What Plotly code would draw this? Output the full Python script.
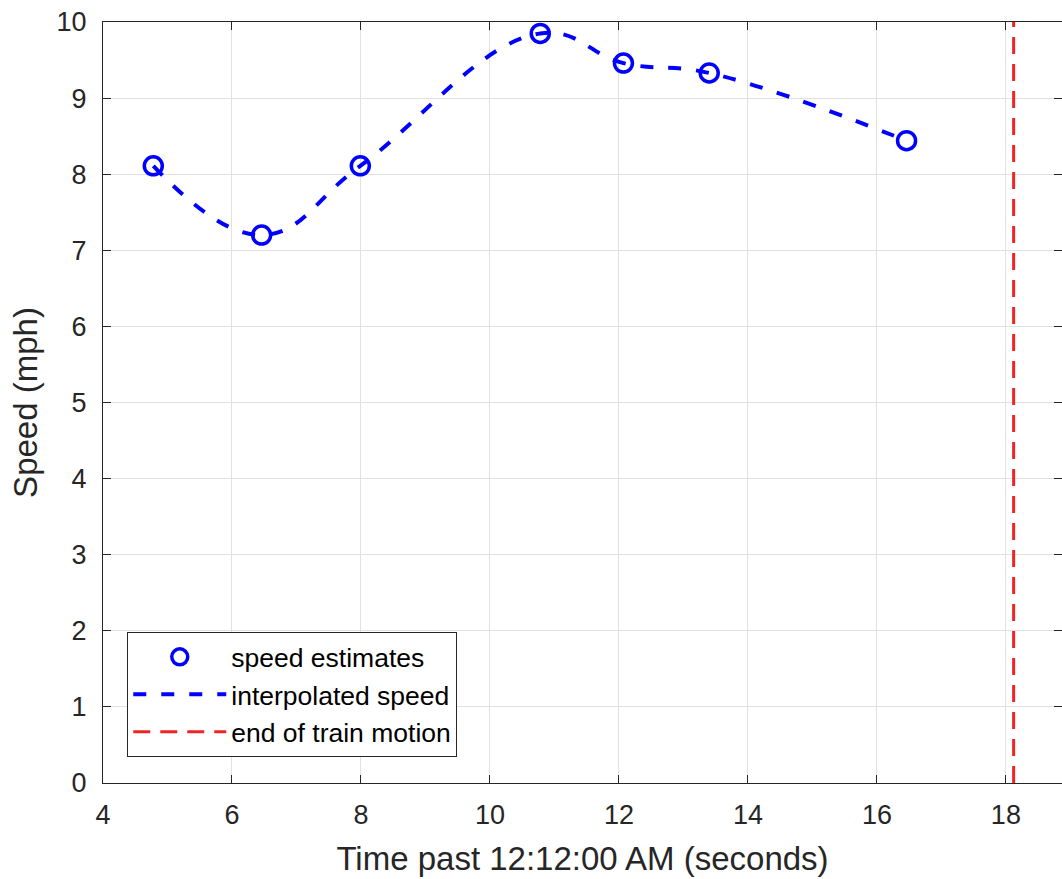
import plotly.graph_objects as go

# Data
time_s = [4.78, 6.46, 7.99, 10.78, 12.07, 13.40, 16.46]
speed_mph = [8.11, 7.20, 8.11, 9.85, 9.46, 9.33, 8.44]
end_motion_x = [18.12, 18.12]
end_motion_y = [0, 10]

x_ticks = [4, 6, 8, 10, 12, 14, 16, 18]
y_ticks = list(range(0, 11))

FONT = "Liberation Sans, Arial, sans-serif"
AXC = "#262626"
GRID = "#e1e1e1"

fig = go.Figure()

fig.add_trace(go.Scatter(
    x=time_s, y=speed_mph, mode="markers", name="speed estimates",
    marker=dict(symbol="circle-open", size=18, color="#0000ff",
                line=dict(width=3.5, color="#0000ff")),
))
fig.add_trace(go.Scatter(
    x=time_s, y=speed_mph, mode="lines", name="interpolated speed",
    line=dict(color="#0000ff", width=4, dash="13px,15px", shape="spline", smoothing=1.2),
))
fig.add_trace(go.Scatter(
    x=end_motion_x, y=end_motion_y, mode="lines", name="end of train motion",
    line=dict(color="#f02424", width=3, dash="17px,10px"),
))

fig.update_layout(
    width=1062, height=879,
    margin=dict(l=103, r=0, t=22, b=96),
    paper_bgcolor="white", plot_bgcolor="white",
    font=dict(family=FONT, color=AXC, size=27),
    showlegend=True,
    legend=dict(
        x=0.0253, y=0.034, xanchor="left", yanchor="bottom",
        bgcolor="white", bordercolor=AXC, borderwidth=1,
        font=dict(family=FONT, size=26.5, color="#000000"),
        itemwidth=93, tracegroupgap=0,
    ),
    xaxis=dict(
        range=[4, 18.87], tickvals=x_ticks, ticktext=[str(v) for v in x_ticks],
        showgrid=True, gridcolor=GRID, gridwidth=1,
        showline=True, linecolor=AXC, linewidth=1, mirror="allticks",
        ticks="inside", ticklen=8, tickcolor=AXC, tickwidth=1,
        zeroline=False, tickfont=dict(size=27, color=AXC),
        ticklabelstandoff=8,
        title=dict(text="Time past 12:12:00 AM (seconds)", font=dict(size=33, color=AXC), standoff=17),
    ),
    yaxis=dict(
        range=[0, 10], tickvals=y_ticks, ticktext=[str(v) for v in y_ticks],
        showgrid=True, gridcolor=GRID, gridwidth=1,
        showline=True, linecolor=AXC, linewidth=1, mirror="allticks",
        ticks="inside", ticklen=8, tickcolor=AXC, tickwidth=1,
        zeroline=False, tickfont=dict(size=27, color=AXC),
        ticklabelstandoff=10,
        title=dict(text="Speed (mph)", font=dict(size=33, color=AXC), standoff=9),
    ),
)

fig.write_html("out.html", config={"displayModeBar": False},
               post_script="document.body.style.margin='0';")
